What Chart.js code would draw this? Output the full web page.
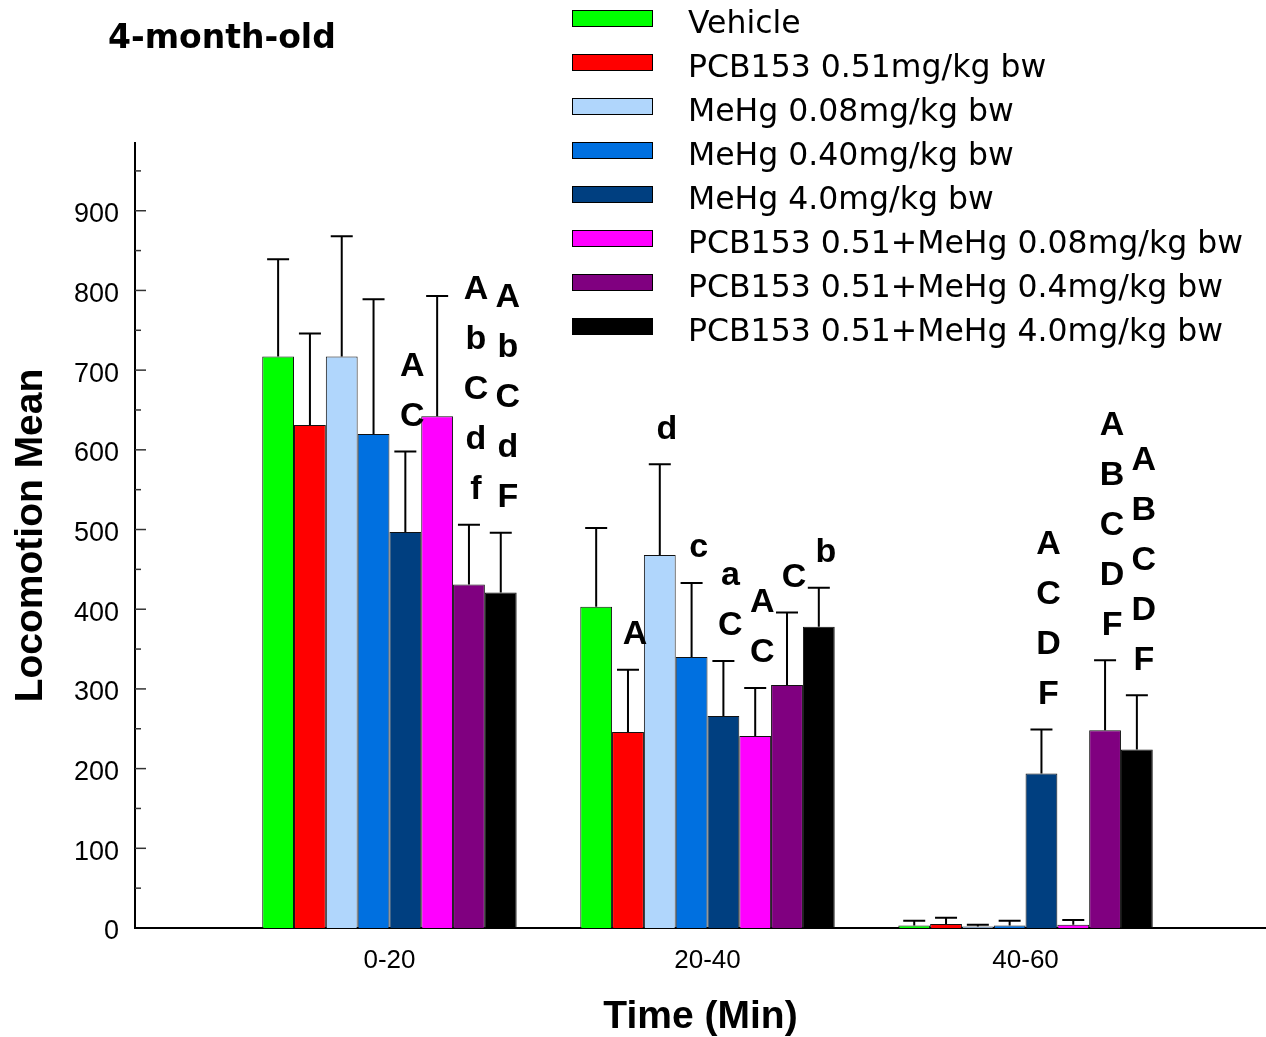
<!DOCTYPE html>
<html lang="en">
<head>
<meta charset="UTF-8">
<title>4-month-old locomotion</title>
<style>
  body { margin: 0; background: #fff; }
  #wrap { position: relative; width: 1266px; height: 1037px; }
  #chart-title { position: absolute; left: 108px; top: 20px; font: bold 33px/33px "DejaVu Sans"; color: #000; }
  #legend { position: absolute; left: 572px; top: 0; }
  .row { position: absolute; left: 0; width: 690px; height: 40px; }
  .swatch { position: absolute; left: 0; top: 11.5px; width: 81px; height: 17px; box-sizing: border-box; border: 1.5px solid #000; }
  .row span { position: absolute; left: 116px; top: 9px; font: 31.5px/31.5px "DejaVu Sans"; white-space: nowrap; color: #000; }
</style>
<script src="https://cdn.jsdelivr.net/npm/chart.js@4.4.0/dist/chart.umd.min.js"></script>
</head>
<body>
<div id="wrap">
  <canvas id="chart"></canvas>
  <div id="chart-title">4-month-old</div>
  <div id="legend"></div>
</div>
<script>
// time bins
const groups = ['0-20', '20-40', '40-60'];
const yTicks = [0, 100, 200, 300, 400, 500, 600, 700, 800, 900];

const names = [
  'Vehicle',
  'PCB153 0.51mg/kg bw',
  'MeHg 0.08mg/kg bw',
  'MeHg 0.40mg/kg bw',
  'MeHg 4.0mg/kg bw',
  'PCB153 0.51+MeHg 0.08mg/kg bw',
  'PCB153 0.51+MeHg 0.4mg/kg bw',
  'PCB153 0.51+MeHg 4.0mg/kg bw'
];
const colors = ['#00ff00', '#ff0000', '#b0d6fc', '#0070e0', '#003f80', '#ff00ff', '#800080', '#000000'];

// means
const vehicleMean = [717, 403, 3];
const pcbMean = [631, 246, 5];
const mehgLowMean = [717, 468, 2];
const mehgMidMean = [620, 340, 3];
const mehgHighMean = [497, 266, 194];
const mixLowMean = [642, 241, 4];
const mixMidMean = [431, 305, 248];
const mixHighMean = [421, 378, 224];

// error (upper bar only)
const vehicleErr = [122, 99, 6];
const pcbErr = [115, 78, 8];
const mehgLowErr = [151, 114, 2];
const mehgMidErr = [169, 93, 6];
const mehgHighErr = [101, 69, 55];
const mixLowErr = [151, 60, 6];
const mixMidErr = [75, 91, 88];
const mixHighErr = [75, 49, 68];

// significance letters, top to bottom
const vehicleLetters = ['', '', ''];
const pcbLetters = ['', 'A', ''];
const mehgLowLetters = ['', 'd', ''];
const mehgMidLetters = ['', 'c', ''];
const mehgHighLetters = ['AC', 'aC', 'ACDF'];
const mixLowLetters = ['', 'AC', ''];
const mixMidLetters = ['AbCdf', 'C', 'ABCDF'];
const mixHighLetters = ['AbCdF', 'b', 'ABCDF'];

const means = [vehicleMean, pcbMean, mehgLowMean, mehgMidMean, mehgHighMean, mixLowMean, mixMidMean, mixHighMean];
const errs = [vehicleErr, pcbErr, mehgLowErr, mehgMidErr, mehgHighErr, mixLowErr, mixMidErr, mixHighErr];
const letters = [vehicleLetters, pcbLetters, mehgLowLetters, mehgMidLetters, mehgHighLetters, mixLowLetters, mixMidLetters, mixHighLetters];

// legend
const legend = document.getElementById('legend');
names.forEach((n, i) => {
  const row = document.createElement('div');
  row.className = 'row';
  row.style.top = (18 + 44 * i - 20) + 'px';
  const sw = document.createElement('div');
  sw.className = 'swatch';
  sw.style.background = colors[i];
  const t = document.createElement('span');
  t.textContent = n;
  row.appendChild(sw);
  row.appendChild(t);
  legend.appendChild(row);
});

const errorBars = {
  id: 'errorBars',
  afterDatasetsDraw(chart) {
    const ctx = chart.ctx;
    const y = chart.scales.y;
    ctx.save();
    chart.data.datasets.forEach((ds, d) => {
      chart.getDatasetMeta(d).data.forEach((bar, i) => {
        const top = y.getPixelForValue(means[d][i] + errs[d][i]);
        ctx.strokeStyle = '#000';
        ctx.lineWidth = 2;
        ctx.beginPath();
        ctx.moveTo(bar.x, bar.y);
        ctx.lineTo(bar.x, top);
        ctx.moveTo(bar.x - 11, top);
        ctx.lineTo(bar.x + 11, top);
        ctx.stroke();

        const chars = letters[d][i].split('');
        ctx.fillStyle = '#000';
        ctx.font = 'bold 34px "Liberation Sans"';
        ctx.textAlign = 'center';
        ctx.textBaseline = 'middle';
        chars.forEach((ch, k) => {
          ctx.fillText(ch, bar.x + 7, top - 35 - (chars.length - 1 - k) * 50);
        });
      });
    });
    ctx.restore();
  }
};

// small tick marks on the inside of the y axis
const axisTicks = {
  id: 'axisTicks',
  afterDraw(chart) {
    const ctx = chart.ctx;
    const y = chart.scales.y;
    const x0 = chart.chartArea.left;
    ctx.save();
    ctx.strokeStyle = '#333';
    ctx.lineWidth = 1.5;
    yTicks.forEach(v => {
      [v, v + 50].forEach(t => {
        if (t === 0 || t > y.max) return;
        const py = y.getPixelForValue(t);
        const len = t % 100 === 0 ? 11 : 6;
        ctx.beginPath();
        ctx.moveTo(x0, py);
        ctx.lineTo(x0 + len, py);
        ctx.stroke();
      });
    });
    ctx.restore();
  }
};

new Chart(document.getElementById('chart'), {
  type: 'bar',
  data: {
    datasets: names.map((n, d) => ({
      label: n,
      data: groups.map((g, i) => ({ x: i + 1, y: means[d][i] })),
      backgroundColor: colors[d],
      borderColor: '#111',
      borderWidth: 1,
      categoryPercentage: 0.8,
      barPercentage: 1.0
    }))
  },
  options: {
    responsive: true,
    maintainAspectRatio: false,
    animation: false,
    layout: { padding: { top: 143, left: 0, right: 0, bottom: 0 } },
    plugins: { legend: { display: false }, tooltip: { enabled: false } },
    scales: {
      x: {
        type: 'linear',
        min: 0.2,
        max: 3.756,
        offset: false,
        afterBuildTicks: s => { s.ticks = groups.map((g, i) => ({ value: i + 1 })); },
        ticks: {
          callback: v => groups[v - 1],
          font: { family: 'Liberation Sans', size: 26 },
          color: '#000',
          padding: 17,
          maxRotation: 0,
          autoSkip: false
        },
        grid: { display: false, drawTicks: false },
        border: { display: true, color: '#000', width: 2 },
        title: {
          display: true,
          text: 'Time (Min)',
          color: '#000',
          font: { family: 'Liberation Sans', size: 39, weight: 'bold', lineHeight: 1 },
          padding: { top: 0, bottom: 0 }
        },
        afterFit: s => { s.height = 109; }
      },
      y: {
        min: 0,
        max: 985,
        afterBuildTicks: s => { s.ticks = yTicks.map(v => ({ value: v })); },
        ticks: {
          font: { family: 'Liberation Sans', size: 27 },
          color: '#000',
          padding: 16,
          labelOffset: 4
        },
        grid: { display: false, drawTicks: false },
        border: { display: true, color: '#000', width: 2 },
        title: {
          display: true,
          text: 'Locomotion Mean',
          color: '#000',
          font: { family: 'Liberation Sans', size: 39, weight: 'bold', lineHeight: 1 },
          padding: { top: 12, bottom: 0 }
        },
        afterFit: s => { s.width = 135; }
      }
    }
  },
  plugins: [errorBars, axisTicks]
});
</script>
</body>
</html>
